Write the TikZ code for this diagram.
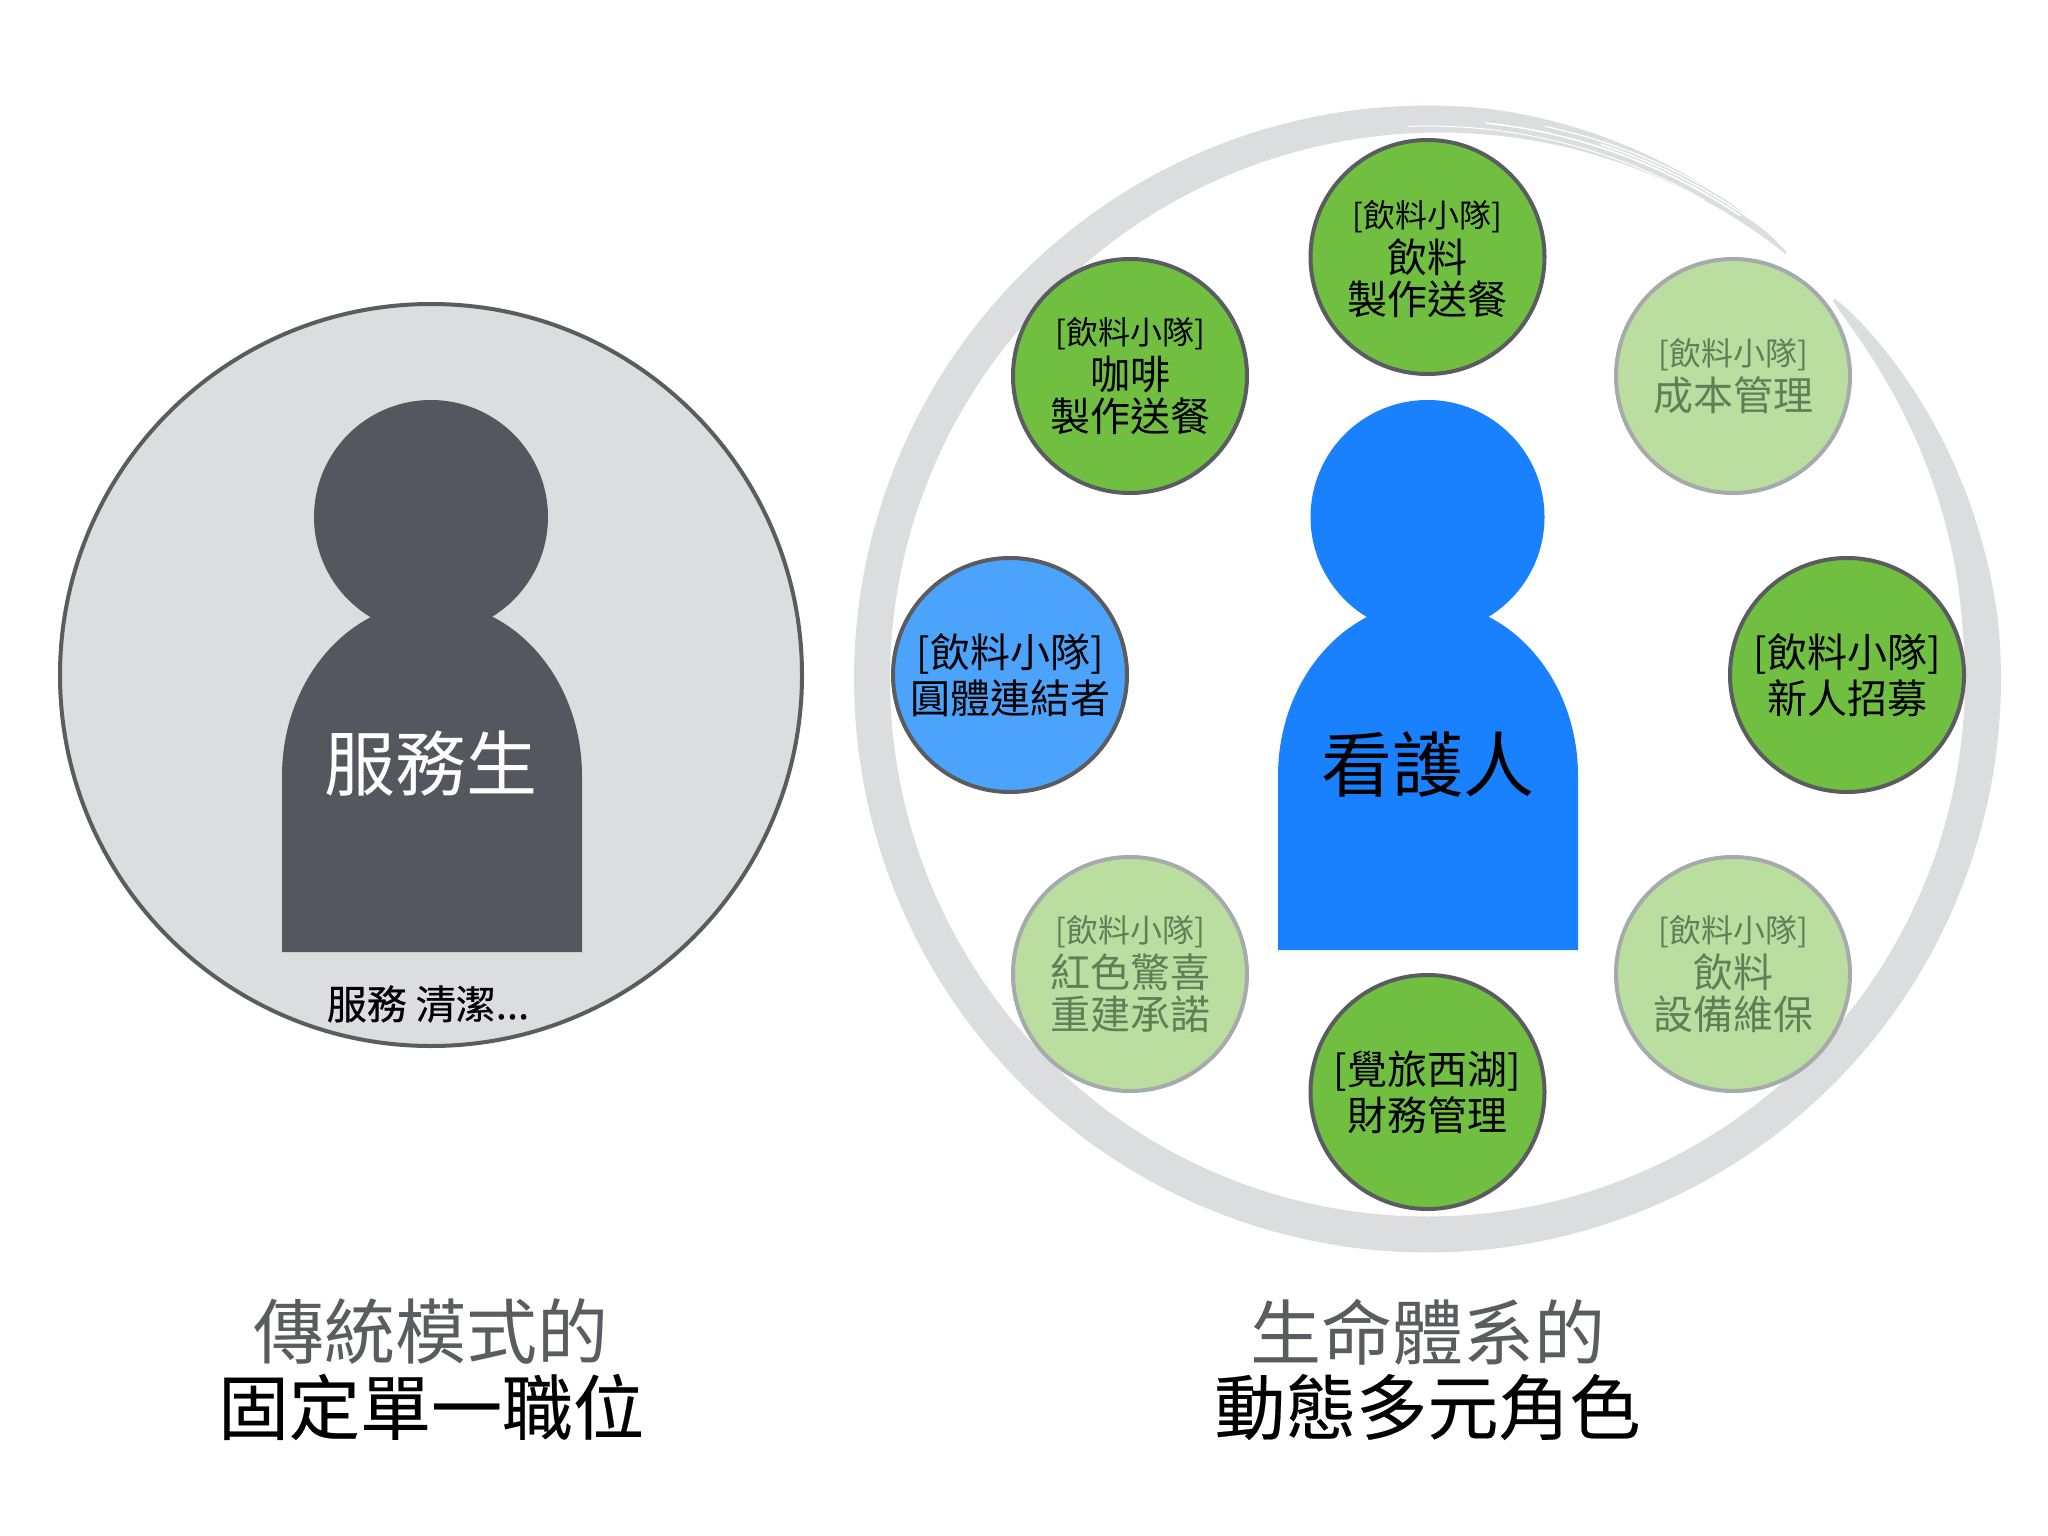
\documentclass[tikz,border=0pt]{standalone}
\usepackage{fontspec}
\setmainfont{Noto Sans CJK TC}
\definecolor{ringgray}{HTML}{DCDDDF}
\definecolor{darkrim}{HTML}{5A5C60}
\definecolor{persongray}{HTML}{54575E}
\definecolor{personblue}{HTML}{1980FE}
\definecolor{teamgreen}{HTML}{70BF41}
\definecolor{palegreen}{HTML}{B9DEA0}
\definecolor{palerim}{HTML}{A6AAAC}
\definecolor{paletext}{HTML}{5F7F57}
\definecolor{softblue}{HTML}{4CA3FB}
\tikzset{
  x=1pt,y=-1pt,
  declare function={
    gs(\t)=min(1,pow(\t/38,0.55));
    rout(\t)=556+17.5*gs(\t)*min(1,pow((354.1-\t)/34,0.55));
    rin(\t)=556-18.5*gs(\t)*min(1,pow((354.1-\t)/84,0.9));
  },
  role/.style={circle,minimum size=234pt,inner sep=0pt,line width=4pt,align=center,font=\fontsize{40}{42}\selectfont},
  active/.style={role,draw=darkrim,fill=teamgreen,text=black},
  faded/.style={role,draw=palerim,fill=palegreen,text=paletext},
  bluerole/.style={role,draw=darkrim,fill=softblue,text=black},
  title/.style={align=center,inner sep=0pt,font=\fontsize{71}{75}\selectfont},
  strongtitle/.style={title,font=\fontsize{71}{75}\selectfont\addfontfeature{FakeBold=0.3}},
  personname/.style={inner sep=0pt,font=\fontsize{71}{75}\selectfont},
  streak/.style={white,line cap=round},
}
\newcommand{\smalltag}[1]{{\fontsize{32}{42}\selectfont #1}}
\begin{document}
\begin{tikzpicture}
\useasboundingbox (0,0) rectangle (2048,1536);
\fill[white] (0,0) rectangle (2048,1536);
% left
\node[circle,minimum size=742pt,inner sep=0pt,draw=darkrim,line width=4pt,fill=ringgray] (leftdisc) at (431,675) {};
\fill[persongray] (282,952) -- (282,776) arc[start angle=180,end angle=360,x radius=150,y radius=174] -- (582,952) -- cycle;
\fill[persongray] (431,517) circle[radius=117];
\node[personname,text=white] (waiter) at (431,764) {服務生};
\node[inner sep=0pt,font=\fontsize{40}{40}\selectfont\addfontfeature{FakeBold=0.5}] (duties) at (428,1004) {服務 清潔...};
% brush ring
\fill[ringgray] plot[domain=0.5:353.6,samples=240,smooth] ({1427.5+rout(\x)*cos(43.5-\x)},{679-rout(\x)*sin(43.5-\x)})
  -- plot[domain=353.6:0.5,samples=240,smooth] ({1427.5+rin(\x)*cos(43.5-\x)},{679-rin(\x)*sin(43.5-\x)}) -- cycle;
% bristle streaks at the lifting end of the stroke
\draw[streak,line width=1.2pt] plot[domain=78:54,samples=30,smooth] ({1427.5+565*cos(\x)},{679-565*sin(\x)});
\draw[streak,line width=1.6pt] plot[domain=84:56,samples=30,smooth] ({1427.5+559*cos(\x)},{679-559*sin(\x)});
\draw[streak,line width=1pt] plot[domain=92:60,samples=30,smooth] ({1427.5+553*cos(\x)},{679-553*sin(\x)});
\draw[streak,line width=1.4pt] plot[domain=72:52,samples=30,smooth] ({1427.5+562*cos(\x)},{679-562*sin(\x)});
% right person
\fill[personblue] (1278,950) -- (1278,776) arc[start angle=180,end angle=360,x radius=150,y radius=174] -- (1578,950) -- cycle;
\fill[personblue] (1427.5,517) circle[radius=117];
\node[personname,text=black] (caretaker) at (1427.5,764) {看護人};
% roles
\node[active,text depth=0pt] (r1) at (1427.5,257) {\raisebox{0pt}{}\smalltag{[飲料小隊]}\\[3pt]飲料\\製作送餐};
\node[active] (r2) at (1130,376) {\smalltag{[飲料小隊]}\\[3pt]咖啡\\製作送餐};
\node[faded] (r3) at (1733,376) {\smalltag{[飲料小隊]}\\[3pt]成本管理};
\node[bluerole] (r4) at (1010,675) {[飲料小隊]\\[4pt]圓體連結者};
\node[active] (r5) at (1847,675) {[飲料小隊]\\[4pt]新人招募};
\node[faded] (r6) at (1130,974) {\smalltag{[飲料小隊]}\\[3pt]紅色驚喜\\重建承諾};
\node[faded] (r7) at (1733,974) {\smalltag{[飲料小隊]}\\[3pt]飲料\\設備維保};
\node[active] (r8) at (1427.5,1092) {[覺旅西湖]\\[4pt]財務管理};
% titles
\node[title,text=darkrim] (t1a) at (431,1332) {傳統模式的};
\node[strongtitle,text=black] (t1b) at (431,1407) {固定單一職位};
\node[title,text=darkrim] (t2a) at (1427.5,1332) {生命體系的};
\node[strongtitle,text=black] (t2b) at (1427.5,1407) {動態多元角色};
\end{tikzpicture}
\end{document}
